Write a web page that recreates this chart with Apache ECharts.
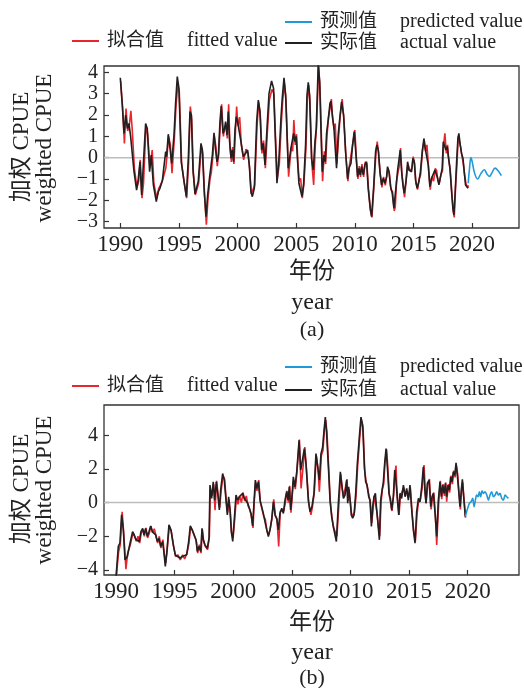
<!DOCTYPE html>
<html><head><meta charset="utf-8">
<script src="https://cdn.jsdelivr.net/npm/echarts@6/dist/echarts.min.js"></script>
<style>html,body{margin:0;padding:0;background:#fff}#c{width:524px;height:688px}</style>
</head><body><div id="c"></div>
<script>
const FONT = '"Liberation Serif","Noto Sans CJK SC",serif';
const yearTicks = [1990, 1995, 2000, 2005, 2010, 2015, 2020];
const yTicksA = [-3, -2, -1, 0, 1, 2, 3, 4];
const yTicksB = [-4, -2, 0, 2, 4];
const names = { fit: '拟合值', act: '实际值', pre: '预测值' };
const namesEn = { '拟合值': 'fitted value', '实际值': 'actual value', '预测值': 'predicted value' };

const actualA = [[1990.0,3.75],[1990.17,2.47],[1990.32,1.14],[1990.46,2.0],[1990.6,1.37],[1990.74,1.6],[1990.88,1.0],[1991.17,-0.66],[1991.39,-1.52],[1991.54,-0.97],[1991.68,-0.19],[1991.82,-1.75],[1992.16,1.6],[1992.3,1.37],[1992.5,-0.66],[1992.64,0.12],[1992.82,-1.28],[1993.07,-2.06],[1993.24,-1.6],[1993.38,-1.44],[1993.58,-1.1],[1993.87,0.28],[1993.95,0.05],[1994.09,1.1],[1994.24,0.44],[1994.38,-0.27],[1994.58,1.06],[1994.72,2.6],[1994.86,3.8],[1995.0,3.25],[1995.2,-0.19],[1995.43,-1.1],[1995.63,-1.83],[1995.8,-0.03],[1995.94,2.16],[1996.06,2.0],[1996.2,-0.6],[1996.37,-1.7],[1996.65,-1.1],[1996.88,0.67],[1997.0,0.36],[1997.16,-1.6],[1997.31,-2.77],[1997.45,-1.75],[1997.62,-0.89],[1997.73,-0.81],[1997.85,0.12],[1997.99,1.17],[1998.13,0.36],[1998.24,-0.19],[1998.36,0.05],[1998.5,1.69],[1998.61,2.42],[1998.76,1.14],[1998.87,1.3],[1998.98,1.69],[1999.1,1.06],[1999.21,2.16],[1999.32,0.75],[1999.44,-0.03],[1999.55,0.36],[1999.66,-0.19],[1999.78,1.3],[1999.89,1.92],[2000.0,1.69],[2000.15,1.77],[2000.29,0.75],[2000.49,0.05],[2000.69,0.2],[2000.86,0.36],[2001.0,-0.34],[2001.14,-1.6],[2001.26,-1.83],[2001.43,-1.44],[2001.63,1.69],[2001.77,2.7],[2001.91,2.16],[2002.05,0.36],[2002.19,0.67],[2002.34,-0.34],[2002.51,1.37],[2002.68,3.0],[2002.9,3.6],[2003.07,3.25],[2003.19,1.37],[2003.36,-1.2],[2003.53,-0.03],[2003.7,1.84],[2003.81,2.78],[2003.96,3.75],[2004.1,2.94],[2004.32,-0.5],[2004.55,0.44],[2004.67,0.36],[2004.78,1.14],[2004.89,0.75],[2005.0,1.0],[2005.12,-0.19],[2005.23,-1.2],[2005.35,-1.12],[2005.49,-1.83],[2005.63,-1.28],[2005.8,0.6],[2005.92,2.94],[2006.03,3.53],[2006.14,2.94],[2006.31,-0.03],[2006.46,-0.58],[2006.6,0.75],[2006.71,1.37],[2006.88,4.4],[2007.0,3.56],[2007.11,1.37],[2007.22,-0.66],[2007.37,0.12],[2007.48,-0.19],[2007.59,1.14],[2007.73,1.77],[2007.88,2.55],[2007.96,2.66],[2008.08,2.0],[2008.22,1.37],[2008.3,1.45],[2008.44,-0.5],[2008.59,1.14],[2008.73,1.92],[2008.87,2.62],[2009.04,2.0],[2009.21,0.28],[2009.38,-1.0],[2009.5,-0.5],[2009.67,-0.27],[2009.81,0.6],[2009.95,1.22],[2010.12,-0.03],[2010.23,-0.89],[2010.35,-0.5],[2010.46,-0.81],[2010.58,-0.42],[2010.72,-0.81],[2010.86,-0.34],[2011.0,-0.19],[2011.14,-1.44],[2011.31,-2.37],[2011.43,-2.77],[2011.6,-1.44],[2011.77,0.28],[2011.88,0.6],[2012.0,0.36],[2012.14,-0.66],[2012.28,-1.28],[2012.42,-0.97],[2012.57,-1.2],[2012.71,-0.89],[2012.79,-0.42],[2012.91,-0.66],[2013.05,-1.36],[2013.19,-1.67],[2013.33,-2.37],[2013.42,-2.45],[2013.53,-1.28],[2013.65,-0.58],[2013.76,-0.5],[2013.87,0.36],[2013.99,-0.66],[2014.1,-1.28],[2014.21,-1.67],[2014.36,-1.12],[2014.5,-0.19],[2014.61,-0.58],[2014.73,-0.5],[2014.84,-0.66],[2014.95,-0.03],[2015.07,-0.19],[2015.18,-1.05],[2015.32,-1.44],[2015.46,-1.12],[2015.58,-0.73],[2015.75,0.28],[2015.89,0.9],[2016.0,0.44],[2016.12,0.52],[2016.26,-0.34],[2016.4,-1.36],[2016.54,-0.97],[2016.69,-1.05],[2016.83,-0.58],[2016.94,-0.5],[2017.06,-0.97],[2017.17,-1.28],[2017.31,-0.89],[2017.45,-0.5],[2017.54,0.75],[2017.65,0.83],[2017.77,0.36],[2017.88,0.52],[2017.96,0.12],[2018.11,-0.5],[2018.25,-1.6],[2018.36,-2.37],[2018.45,-2.69],[2018.56,-1.6],[2018.68,-0.19],[2018.79,0.9],[2018.87,1.14],[2018.99,0.6],[2019.1,0.2],[2019.22,-0.03],[2019.33,-0.66],[2019.44,-1.28],[2019.56,-1.36],[2019.67,-1.44]];

const fittedA = [[1990.03,3.6],[1990.2,2.3],[1990.35,0.67],[1990.49,2.3],[1990.63,1.25],[1990.77,1.5],[1990.9,2.2],[1991.02,1.3],[1991.2,-0.5],[1991.42,-1.4],[1991.57,-1.1],[1991.7,-0.1],[1991.85,-1.9],[1991.98,-1.2],[1992.19,1.5],[1992.33,1.1],[1992.53,-0.45],[1992.72,0.36],[1992.86,-1.2],[1993.1,-1.9],[1993.27,-1.45],[1993.41,-1.3],[1993.61,-1.05],[1993.88,-0.5],[1994.0,0.2],[1994.12,1.0],[1994.27,0.6],[1994.41,-0.73],[1994.61,0.9],[1994.75,2.4],[1994.9,3.4],[1995.03,3.1],[1995.23,-0.3],[1995.46,-1.2],[1995.66,-1.9],[1995.83,-0.2],[1995.97,2.4],[1996.09,1.8],[1996.23,-0.7],[1996.4,-1.75],[1996.68,-1.2],[1996.91,0.5],[1997.03,0.2],[1997.19,-1.8],[1997.34,-3.15],[1997.48,-1.9],[1997.65,-1.0],[1997.76,-0.7],[1997.88,0.0],[1998.02,1.0],[1998.16,0.5],[1998.27,-0.4],[1998.39,0.2],[1998.53,1.5],[1998.64,2.5],[1998.79,1.0],[1998.9,1.4],[1999.01,1.5],[1999.13,0.9],[1999.24,2.5],[1999.35,0.6],[1999.47,-0.2],[1999.58,0.5],[1999.69,-0.3],[1999.81,1.1],[1999.92,2.4],[2000.03,1.5],[2000.18,1.9],[2000.32,0.6],[2000.52,-0.1],[2000.72,0.4],[2000.89,0.2],[2001.03,-0.5],[2001.17,-1.7],[2001.29,-1.7],[2001.46,-1.3],[2001.66,1.5],[2001.8,2.6],[2001.94,2.0],[2002.08,0.2],[2002.22,0.8],[2002.37,-0.5],[2002.54,1.2],[2002.71,2.7],[2002.93,3.2],[2003.1,3.0],[2003.22,1.2],[2003.39,-1.0],[2003.56,-0.3],[2003.73,1.6],[2003.84,2.6],[2003.99,3.5],[2004.13,2.7],[2004.35,-0.89],[2004.58,0.5],[2004.7,0.3],[2004.8,1.77],[2004.92,0.6],[2005.03,1.1],[2005.15,-0.3],[2005.26,-1.1],[2005.38,-0.97],[2005.52,-1.9],[2005.66,-1.2],[2005.83,0.4],[2005.95,2.7],[2006.06,3.4],[2006.17,2.7],[2006.34,-0.3],[2006.49,-1.28],[2006.63,0.6],[2006.74,1.5],[2006.91,4.3],[2007.03,3.3],[2007.14,1.2],[2007.25,-1.1],[2007.4,0.3],[2007.51,-0.3],[2007.62,1.0],[2007.76,1.9],[2007.91,2.4],[2008.0,2.75],[2008.11,1.8],[2008.25,1.3],[2008.33,1.6],[2008.47,-0.3],[2008.62,1.0],[2008.76,2.0],[2008.92,2.75],[2009.07,1.8],[2009.24,0.1],[2009.41,-1.1],[2009.53,-0.4],[2009.7,-0.4],[2009.84,0.7],[2010.0,1.3],[2010.15,-0.2],[2010.26,-1.0],[2010.38,-0.4],[2010.49,-0.9],[2010.61,-0.3],[2010.75,-0.9],[2010.89,-0.2],[2011.03,-0.3],[2011.17,-1.5],[2011.34,-2.5],[2011.46,-2.8],[2011.63,-1.3],[2011.8,0.2],[2011.91,0.75],[2012.03,0.2],[2012.17,-0.8],[2012.31,-1.4],[2012.45,-0.9],[2012.6,-1.3],[2012.74,-0.8],[2012.82,-0.5],[2012.94,-0.7],[2013.08,-1.5],[2013.22,-1.6],[2013.36,-2.5],[2013.45,-2.3],[2013.56,-1.1],[2013.68,-0.7],[2013.79,-0.4],[2013.9,0.45],[2014.02,-0.8],[2014.13,-1.3],[2014.24,-1.85],[2014.39,-1.0],[2014.53,-0.3],[2014.64,-0.5],[2014.76,-0.6],[2014.87,-0.5],[2014.98,0.05],[2015.1,-0.3],[2015.21,-1.2],[2015.35,-1.5],[2015.49,-1.0],[2015.61,-0.8],[2015.78,0.4],[2015.92,0.8],[2016.03,0.3],[2016.15,0.6],[2016.29,-0.5],[2016.43,-1.5],[2016.57,-0.9],[2016.72,-1.1],[2016.86,-0.5],[2016.97,-0.6],[2017.09,-1.1],[2017.2,-1.2],[2017.34,-0.8],[2017.48,-0.6],[2017.57,0.6],[2017.68,1.14],[2017.8,0.2],[2017.91,0.6],[2017.99,0.0],[2018.14,-0.6],[2018.28,-1.7],[2018.39,-2.5],[2018.48,-2.8],[2018.59,-1.4],[2018.71,-0.3],[2018.82,1.0],[2018.9,1.0],[2019.02,0.5],[2019.13,0.1],[2019.25,-0.27],[2019.36,-0.8],[2019.47,-1.2],[2019.59,-1.4],[2019.7,-1.3]];

const predictedA = [[2019.67,-1.2],[2019.78,-0.5],[2019.9,0.0],[2020.01,-0.2],[2020.2,-0.7],[2020.47,-1.0],[2020.75,-0.75],[2021.04,-0.57],[2021.25,-0.75],[2021.47,-0.88],[2021.7,-0.7],[2021.95,-0.49],[2022.2,-0.6],[2022.5,-0.84]];

const actualB = [[1990.0,-4.5],[1990.2,-2.6],[1990.34,-2.4],[1990.48,-0.73],[1990.63,-1.62],[1990.77,-3.4],[1990.97,-3.2],[1991.2,-2.41],[1991.42,-1.72],[1991.56,-1.92],[1991.71,-2.21],[1991.85,-2.12],[1991.99,-2.31],[1992.13,-1.72],[1992.28,-1.53],[1992.39,-1.92],[1992.53,-1.53],[1992.67,-2.01],[1992.82,-1.72],[1992.96,-1.38],[1993.1,-1.72],[1993.24,-1.62],[1993.39,-1.92],[1993.53,-2.31],[1993.67,-2.12],[1993.81,-2.6],[1993.98,-2.31],[1994.1,-3.0],[1994.21,-3.79],[1994.35,-2.9],[1994.52,-1.32],[1994.69,-1.62],[1994.89,-2.51],[1995.06,-3.1],[1995.26,-3.2],[1995.46,-3.3],[1995.66,-3.2],[1995.83,-3.3],[1996.03,-3.1],[1996.2,-2.31],[1996.34,-1.38],[1996.51,-1.62],[1996.66,-1.72],[1996.83,-2.21],[1996.94,-2.9],[1997.08,-2.6],[1997.23,-2.9],[1997.34,-1.53],[1997.45,-2.21],[1997.59,-2.51],[1997.79,-2.71],[1997.94,-2.12],[1998.02,1.04],[1998.16,0.25],[1998.3,1.24],[1998.42,0.15],[1998.56,1.24],[1998.7,0.45],[1998.82,-0.44],[1998.93,0.75],[1999.1,1.73],[1999.24,1.34],[1999.39,0.15],[1999.5,-0.73],[1999.61,0.35],[1999.73,-0.44],[1999.84,-1.72],[1999.96,-2.31],[2000.1,-0.93],[2000.24,0.45],[2000.38,0.15],[2000.52,0.35],[2000.67,0.25],[2000.81,0.55],[2000.95,0.25],[2001.09,0.35],[2001.24,-0.04],[2001.38,-0.34],[2001.52,-0.64],[2001.66,-1.38],[2001.77,-0.04],[2001.89,1.34],[2002.0,0.84],[2002.15,1.24],[2002.29,0.15],[2002.43,-0.24],[2002.57,-0.64],[2002.71,-1.13],[2002.86,-1.62],[2003.0,-2.01],[2003.14,-1.62],[2003.28,-1.03],[2003.43,0.05],[2003.57,-0.73],[2003.71,-0.93],[2003.85,-1.62],[2003.99,-0.64],[2004.14,-0.34],[2004.28,-0.64],[2004.42,0.15],[2004.56,0.65],[2004.68,0.15],[2004.79,0.94],[2004.9,-0.44],[2004.99,0.15],[2005.13,1.53],[2005.27,0.94],[2005.42,1.83],[2005.62,3.7],[2005.76,1.93],[2005.9,1.83],[2006.07,3.21],[2006.21,2.32],[2006.41,0.15],[2006.55,-0.54],[2006.72,-0.24],[2006.89,0.55],[2007.06,2.91],[2007.21,2.13],[2007.35,1.34],[2007.49,2.91],[2007.63,3.3],[2007.75,4.3],[2007.86,5.08],[2007.97,4.1],[2008.12,2.13],[2008.26,0.15],[2008.4,-0.83],[2008.54,-1.42],[2008.66,-1.52],[2008.8,-2.31],[2008.97,-0.04],[2009.14,1.83],[2009.28,0.94],[2009.4,0.25],[2009.54,0.45],[2009.68,1.34],[2009.77,-0.04],[2009.85,0.94],[2009.97,0.15],[2010.08,-0.73],[2010.19,-0.93],[2010.31,-0.73],[2010.45,0.55],[2010.59,2.32],[2010.76,3.9],[2010.9,5.08],[2011.05,4.59],[2011.19,2.13],[2011.3,1.24],[2011.42,1.04],[2011.56,0.35],[2011.67,0.15],[2011.79,-1.42],[2011.9,-0.24],[2012.01,0.35],[2012.13,0.55],[2012.24,-0.44],[2012.35,-1.23],[2012.47,-2.21],[2012.58,0.15],[2012.7,0.75],[2012.81,1.24],[2012.92,2.32],[2013.04,3.21],[2013.15,2.13],[2013.29,0.55],[2013.41,0.25],[2013.52,-0.44],[2013.66,0.35],[2013.78,1.93],[2013.89,1.24],[2014.0,0.25],[2014.12,-0.73],[2014.23,0.55],[2014.37,0.25],[2014.52,1.04],[2014.66,0.35],[2014.8,0.84],[2014.94,0.15],[2015.08,1.04],[2015.23,-0.44],[2015.37,-1.62],[2015.51,-2.41],[2015.65,-0.54],[2015.8,0.25],[2015.94,0.05],[2016.08,0.94],[2016.22,2.13],[2016.37,0.55],[2016.45,-0.04],[2016.56,1.14],[2016.71,1.34],[2016.85,-0.24],[2016.96,0.35],[2017.08,0.55],[2017.22,-0.64],[2017.36,-2.01],[2017.5,0.15],[2017.64,1.24],[2017.76,0.35],[2017.87,1.04],[2017.99,0.55],[2018.1,1.14],[2018.21,0.35],[2018.33,1.04],[2018.44,0.75],[2018.55,1.53],[2018.67,1.24],[2018.78,1.83],[2018.9,1.63],[2019.01,2.36],[2019.12,1.63],[2019.24,0.65],[2019.35,-0.24],[2019.47,0.84],[2019.55,1.38],[2019.66,0.35],[2019.8,-0.83]];

const fittedB = [[1990.03,-4.4],[1990.23,-2.9],[1990.37,-2.5],[1990.53,-0.55],[1990.66,-1.8],[1990.85,-3.95],[1991.0,-3.0],[1991.23,-2.5],[1991.45,-1.8],[1991.59,-2.0],[1991.74,-2.3],[1991.88,-2.0],[1992.02,-2.4],[1992.16,-1.8],[1992.31,-1.6],[1992.42,-2.0],[1992.56,-1.5],[1992.7,-2.1],[1992.85,-1.8],[1992.99,-1.4],[1993.13,-1.8],[1993.27,-1.55],[1993.42,-2.0],[1993.56,-2.4],[1993.7,-2.0],[1993.84,-2.7],[1994.01,-2.2],[1994.13,-3.1],[1994.24,-3.6],[1994.38,-2.7],[1994.55,-1.4],[1994.72,-1.7],[1994.92,-2.6],[1995.09,-3.2],[1995.29,-3.1],[1995.49,-3.4],[1995.69,-3.1],[1995.86,-3.35],[1996.06,-3.0],[1996.23,-2.4],[1996.37,-1.45],[1996.54,-1.7],[1996.69,-1.65],[1996.86,-2.3],[1996.97,-3.0],[1997.11,-2.5],[1997.26,-3.0],[1997.37,-1.6],[1997.48,-2.3],[1997.62,-2.6],[1997.82,-2.8],[1997.97,-2.0],[1998.05,0.8],[1998.19,0.4],[1998.33,1.1],[1998.45,-0.45],[1998.59,1.3],[1998.73,0.3],[1998.85,-0.3],[1998.96,0.6],[1999.13,1.6],[1999.27,1.4],[1999.42,0.0],[1999.53,-0.6],[1999.64,0.2],[1999.76,-0.6],[1999.87,-1.8],[1999.99,-2.1],[2000.13,-1.0],[2000.27,0.3],[2000.41,-0.1],[2000.55,0.4],[2000.7,0.0],[2000.84,0.6],[2000.98,0.1],[2001.12,0.4],[2001.27,-0.2],[2001.41,-0.4],[2001.55,-0.8],[2001.69,-1.5],[2001.8,0.1],[2001.92,1.2],[2002.03,0.7],[2002.18,1.34],[2002.32,0.0],[2002.46,-0.4],[2002.6,-0.8],[2002.74,-1.0],[2002.89,-1.7],[2003.03,-1.9],[2003.17,-1.5],[2003.31,-0.9],[2003.46,0.2],[2003.6,-0.8],[2003.74,-1.0],[2003.88,-2.6],[2004.02,-0.5],[2004.17,-0.4],[2004.31,-0.5],[2004.45,0.0],[2004.59,0.7],[2004.71,0.0],[2004.82,1.0],[2004.93,-0.6],[2005.02,0.3],[2005.16,1.3],[2005.3,0.8],[2005.45,1.9],[2005.65,3.75],[2005.79,0.84],[2005.93,1.9],[2006.11,3.3],[2006.24,2.1],[2006.44,0.0],[2006.63,-0.73],[2006.75,-0.3],[2006.92,0.6],[2007.09,2.8],[2007.24,2.0],[2007.35,0.65],[2007.52,2.8],[2007.66,3.1],[2007.78,4.3],[2007.89,4.9],[2008.0,4.2],[2008.15,2.0],[2008.29,0.0],[2008.43,-0.9],[2008.57,-1.5],[2008.69,-1.4],[2008.85,-2.0],[2009.0,-0.3],[2009.17,1.7],[2009.31,0.8],[2009.43,0.4],[2009.57,0.3],[2009.71,1.4],[2009.8,0.1],[2009.88,0.8],[2010.0,0.0],[2010.11,-0.8],[2010.22,-0.9],[2010.34,-0.6],[2010.48,0.4],[2010.62,2.2],[2010.79,3.8],[2010.93,4.9],[2011.08,4.4],[2011.22,1.9],[2011.33,1.3],[2011.45,0.9],[2011.59,0.4],[2011.7,0.0],[2011.82,-1.2],[2011.93,-0.4],[2012.04,0.4],[2012.16,0.4],[2012.27,-0.6],[2012.38,-1.4],[2012.5,-2.0],[2012.61,0.0],[2012.73,0.8],[2012.84,1.1],[2012.95,2.4],[2013.09,3.15],[2013.18,2.2],[2013.32,0.4],[2013.44,0.3],[2013.55,-0.5],[2013.69,0.5],[2013.81,1.8],[2013.89,2.2],[2013.95,1.0],[2014.03,0.1],[2014.15,-0.73],[2014.26,0.4],[2014.4,0.4],[2014.55,0.9],[2014.69,0.4],[2014.83,0.7],[2014.97,0.3],[2015.11,0.9],[2015.26,-0.6],[2015.4,-1.7],[2015.54,-2.3],[2015.68,-0.7],[2015.8,0.0],[2015.97,0.2],[2016.11,0.8],[2016.28,2.23],[2016.4,0.4],[2016.45,-0.04],[2016.59,1.0],[2016.74,1.4],[2016.88,-0.4],[2016.99,0.2],[2017.11,0.6],[2017.25,-0.8],[2017.36,-2.51],[2017.53,0.0],[2017.67,1.3],[2017.79,0.2],[2017.9,1.1],[2018.02,0.4],[2018.13,1.2],[2018.21,0.05],[2018.36,1.1],[2018.47,0.6],[2018.58,1.6],[2018.7,1.1],[2018.81,1.9],[2018.93,1.5],[2019.04,2.2],[2019.15,1.7],[2019.27,0.5],[2019.38,-0.4],[2019.5,0.9],[2019.58,1.2],[2019.69,0.2],[2019.82,-0.9]];

const predictedB = [[2019.8,-0.83],[2020.0,-0.34],[2020.15,-0.04],[2020.29,0.05],[2020.43,0.25],[2020.55,-0.24],[2020.66,0.15],[2020.77,0.45],[2020.89,0.35],[2021.0,0.65],[2021.11,0.35],[2021.23,0.7],[2021.34,0.55],[2021.48,0.65],[2021.63,0.45],[2021.77,0.15],[2021.91,0.45],[2022.05,0.65],[2022.2,0.35],[2022.34,0.45],[2022.48,0.65],[2022.62,0.45],[2022.76,0.55],[2022.91,0.25],[2023.05,0.15],[2023.19,0.45],[2023.33,0.35],[2023.48,0.25]];

const RED = '#e8262d', BLACK = '#231f20', BLUE = '#1f9ad8', GRAYLINE = '#bdbdbd', AXIS = '#333';
const xRangeA = [1988.61, 2024.0], yRangeA = [-3.3, 4.3];
const xRangeB = [1988.98, 2024.38], yRangeB = [-4.3, 5.8];

function xAxisCfg(idx, range) {
  return {
    type: 'value', gridIndex: idx, min: range[0], max: range[1], position: 'bottom',
    axisLine: { show: false, onZero: false },
    axisTick: { show: true, inside: true, length: 5, lineStyle: { color: AXIS, width: 1.2 }, customValues: yearTicks },
    axisLabel: { customValues: yearTicks, interval: 0, hideOverlap: false, color: '#222', fontFamily: FONT, fontSize: 23, margin: 5, formatter: v => String(v) },
    splitLine: { show: false }
  };
}
function yAxisCfg(idx, range, ticks) {
  return {
    type: 'value', gridIndex: idx, min: range[0], max: range[1], position: 'left',
    axisLine: { show: false, onZero: false },
    axisTick: { show: true, inside: true, length: 5, lineStyle: { color: AXIS, width: 1.2 }, customValues: ticks },
    axisLabel: { customValues: ticks, interval: 0, hideOverlap: false, showMinLabel: true, showMaxLabel: true, color: '#222', fontFamily: FONT, fontSize: 20, lineHeight: 14, margin: 6, formatter: v => String(v).replace('-', '\u2212') },
    splitLine: { show: false }
  };
}
function lineSeries(name, data, color, idx, z, smooth) {
  return { name, type: 'line', data, xAxisIndex: idx, yAxisIndex: idx, showSymbol: false, symbol: 'none',
    smooth: smooth || false, z, lineStyle: { color, width: 1.6 }, itemStyle: { color }, animation: false };
}
function zeroSeries(idx, range) {
  return { type: 'line', data: [[range[0], 0], [range[1], 0]], xAxisIndex: idx, yAxisIndex: idx, showSymbol: false,
    symbol: 'none', z: 1, silent: true, lineStyle: { color: GRAYLINE, width: 1.5 }, animation: false, tooltip: { show: false } };
}
const legendText = {
  fontFamily: FONT, color: '#222',
  rich: {
    z: { fontFamily: FONT, fontSize: 19, width: 80, lineHeight: 22, padding: [0, 0, 0, 3], color: '#222' },
    e: { fontFamily: FONT, fontSize: 20, lineHeight: 22, color: '#222' }
  }
};
const legendFmt = n => '{z|' + n + '}{e|' + namesEn[n] + '}';
function legends(topRed, topPair, gap) {
  return [
    { data: [names.fit], left: 72, top: topRed, orient: 'horizontal', icon: 'rect', itemWidth: 27, itemHeight: 2,
      padding: 0, textStyle: legendText, formatter: legendFmt, selectedMode: false },
    { data: [names.pre, names.act], left: 285, top: topPair, orient: 'vertical', itemGap: gap, icon: 'rect', itemWidth: 27, itemHeight: 2,
      padding: 0, textStyle: legendText, formatter: legendFmt, selectedMode: false }
  ];
}
function txt(x, y, text, size, rot) {
  return { type: 'text', x, y, rotation: rot || 0, silent: true,
    style: { text, fontFamily: FONT, fontSize: size, fill: '#222', align: 'center', verticalAlign: 'middle' } };
}

const chart = echarts.init(document.getElementById('c'), null, { renderer: 'canvas' });
chart.setOption({
  animation: false,
  backgroundColor: '#fff',
  grid: [
    { left: 104, top: 66, width: 415, height: 162, show: true, borderColor: AXIS, borderWidth: 1.3, backgroundColor: 'transparent' },
    { left: 104, top: 405, width: 415, height: 170, show: true, borderColor: AXIS, borderWidth: 1.3, backgroundColor: 'transparent' }
  ],
  legend: [].concat(legends(31, 12, 1), legends(376, 357, 3)),
  xAxis: [xAxisCfg(0, xRangeA), xAxisCfg(1, xRangeB)],
  yAxis: [yAxisCfg(0, yRangeA, yTicksA), yAxisCfg(1, yRangeB, yTicksB)],
  series: [
    zeroSeries(0, xRangeA),
    lineSeries(names.fit, fittedA, RED, 0, 2),
    lineSeries(names.act, actualA, BLACK, 0, 3),
    lineSeries(names.pre, predictedA, BLUE, 0, 3, 0.4),
    zeroSeries(1, xRangeB),
    lineSeries(names.fit, fittedB, RED, 1, 2),
    lineSeries(names.act, actualB, BLACK, 1, 3),
    lineSeries(names.pre, predictedB, BLUE, 1, 3, 0.3)
  ],
  graphic: [
    txt(22, 147, '加权 CPUE', 23, Math.PI / 2),
    txt(45, 148, 'weighted CPUE', 23, Math.PI / 2),
    txt(312, 272, '年份', 23),
    txt(312, 303, 'year', 24),
    txt(312, 330, '(a)', 22),
    txt(22, 489, '加权 CPUE', 23, Math.PI / 2),
    txt(45, 490, 'weighted CPUE', 23, Math.PI / 2),
    txt(312, 623, '年份', 23),
    txt(312, 653, 'year', 24),
    txt(312, 678, '(b)', 22)
  ]
});
</script></body></html>
